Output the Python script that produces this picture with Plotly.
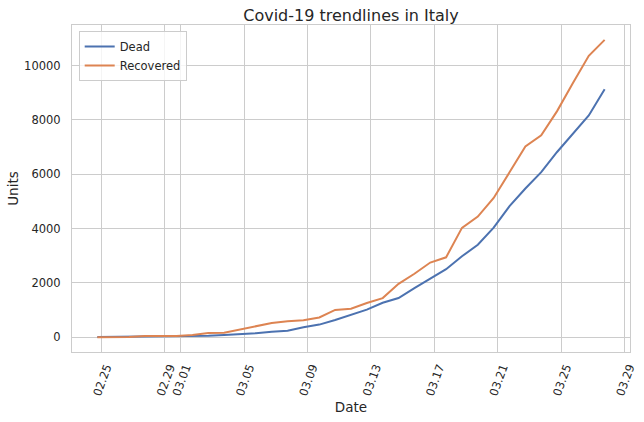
import plotly.graph_objects as go
import pandas as pd

dates = pd.date_range("2020-02-24 18:00", "2020-03-27 18:00", freq="D")
dead = [7, 10, 12, 17, 21, 29, 34, 52, 79, 107, 148, 197, 233, 366, 463, 631, 827,
        1016, 1266, 1441, 1809, 2158, 2503, 2978, 3405, 4032, 4825, 5476, 6077,
        6820, 7503, 8165, 9134]
recovered = [1, 1, 3, 45, 46, 46, 83, 149, 160, 276, 414, 523, 589, 622, 724, 1004,
             1045, 1258, 1439, 1966, 2335, 2749, 2941, 4025, 4440, 5129, 6072, 7024,
             7432, 8326, 9362, 10361, 10950]
x_ticks = ["2020-02-25", "2020-02-29", "2020-03-01", "2020-03-05", "2020-03-09",
           "2020-03-13", "2020-03-17", "2020-03-21", "2020-03-25", "2020-03-29"]
y_ticks = [0, 2000, 4000, 6000, 8000, 10000]
y_tick_labels = [str(v) for v in y_ticks]

FONT = "DejaVu Sans"
TXT = "#262626"
GRID = "#cccccc"

fig = go.Figure()
fig.add_trace(go.Scatter(x=dates, y=dead, mode="lines", name="Dead",
                         line=dict(color="#4C72B0", width=2)))
fig.add_trace(go.Scatter(x=dates, y=recovered, mode="lines", name="Recovered",
                         line=dict(color="#DD8452", width=2)))

fig.update_layout(
    width=644, height=422,
    margin=dict(l=72, r=14, t=25, b=70),
    paper_bgcolor="white", plot_bgcolor="white",
    font=dict(family=FONT, color=TXT, size=11.5),
    title=dict(text="Covid-19 trendlines in Italy", x=0.5, xref="paper",
               y=1, yref="paper", yanchor="bottom", pad=dict(b=4),
               font=dict(size=16, color=TXT)),
    showlegend=True,
    legend=dict(x=0.012, y=0.982, xanchor="left", yanchor="top",
                bgcolor="rgba(255,255,255,0.8)", bordercolor=GRID, borderwidth=1,
                font=dict(size=11.5, color=TXT), tracegroupgap=2),
)
fig.update_xaxes(
    range=["2020-02-23 03:36", "2020-03-29 08:24"],
    tickvals=x_ticks, tickformat="%m.%d", tickangle=-70,
    ticklabelshift=5, ticklabelstandoff=3, automargin=False,
    showgrid=True, gridcolor=GRID, gridwidth=1,
    showline=True, linecolor=GRID, linewidth=1, mirror=True,
    ticks="", zeroline=False,
    title=dict(text="Date", font=dict(size=13.5, color=TXT), standoff=5),
)
fig.update_yaxes(
    range=[-546.45, 11497.45],
    tickvals=y_ticks, ticktext=y_tick_labels, automargin=False,
    showgrid=True, gridcolor=GRID, gridwidth=1,
    showline=True, linecolor=GRID, linewidth=1, mirror=True,
    ticks="", zeroline=False, ticklabelstandoff=8,
    title=dict(text="Units", font=dict(size=13.5, color=TXT), standoff=2),
)

fig.write_html("out.html")
